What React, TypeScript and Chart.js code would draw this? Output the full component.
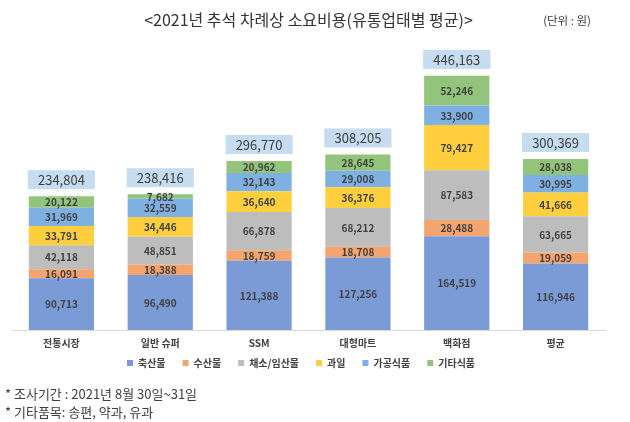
import React, { useEffect, useRef } from "react";
import { Chart, registerables } from "chart.js";

Chart.register(...registerables);

const categories = ["전통시장", "일반 슈퍼", "SSM", "대형마트", "백화점", "평균"];
const seriesNames = ["축산물", "수산물", "채소/임산물", "과일", "가공식품", "기타식품"];
const livestock = [90713, 96490, 121388, 127256, 164519, 116946];
const seafood = [16091, 18388, 18759, 18708, 28488, 19059];
const vegetables = [42118, 48851, 66878, 68212, 87583, 63665];
const fruit = [33791, 34446, 36640, 36376, 79427, 41666];
const processed = [31969, 32559, 32143, 29008, 33900, 30995];
const others = [20122, 7682, 20962, 28645, 52246, 28038];
const totals = [234804, 238416, 296770, 308205, 446163, 300369];
const seriesColors = ["#7b9bd6", "#f3a46f", "#bdbdbd", "#ffcf3e", "#7eb1e2", "#93c47b"];

const titleText = "<2021년 추석 차례상 소요비용(유통업태별 평균)>";
const unitText = "(단위 : 원)";
const footnotes = ["* 조사기간 : 2021년 8월 30일~31일", "* 기타품목: 송편, 약과, 유과"];

const FONT = "'Noto Sans CJK KR', 'Noto Sans', sans-serif";
const fmt = (v: number) => v.toLocaleString("en-US");

const labelsPlugin = {
  id: "customLabels",
  afterDatasetsDraw(chart: any) {
    const ctx = chart.ctx;
    ctx.save();
    ctx.font = `bold 10px ${FONT}`;
    ctx.fillStyle = "#404040";
    ctx.textAlign = "center";
    ctx.textBaseline = "middle";
    chart.data.datasets.forEach((ds: any, di: number) => {
      const meta = chart.getDatasetMeta(di);
      meta.data.forEach((el: any, i: number) => {
        const cy = (el.y + el.base) / 2;
        ctx.fillText(fmt(ds.data[i]), el.x, cy + 0.5);
      });
    });
    const xs = chart.scales.x;
    const ys = chart.scales.y;
    const firstMeta = chart.getDatasetMeta(0);
    totals.forEach((t, i) => {
      const el = firstMeta.data[i];
      const w = el.width + 2;
      const x = xs.getPixelForValue(i);
      const yTop = ys.getPixelForValue(t);
      const h = 19;
      const gap = 7;
      ctx.fillStyle = "#c5dcf1";
      ctx.fillRect(x - w / 2, yTop - gap - h, w, h);
      ctx.fillStyle = "#404040";
      ctx.font = `13px ${FONT}`;
      ctx.fillText(fmt(t), x, yTop - gap - h / 2 + 0.5);
    });
    ctx.restore();
  },
  afterDraw(chart: any) {
    const ctx = chart.ctx;
    ctx.save();
    ctx.fillStyle = "#404040";
    ctx.textBaseline = "middle";
    ctx.font = `11.5px ${FONT}`;
    ctx.textAlign = "right";
    ctx.fillText(unitText, chart.width - 39, 21);
    ctx.textAlign = "left";
    ctx.font = `13px ${FONT}`;
    footnotes.forEach((f, i) => {
      ctx.fillText(f, 5, chart.height - 28 + i * 18);
    });
    ctx.restore();
  },
};

export default function App() {
  const ref = useRef<HTMLCanvasElement>(null);
  useEffect(() => {
    if (!ref.current) return;
    const seriesData = [livestock, seafood, vegetables, fruit, processed, others];
    const chart = new Chart(ref.current, {
      type: "bar",
      data: {
        labels: categories,
        datasets: seriesNames.map((name, i) => ({
          label: name,
          data: seriesData[i],
          backgroundColor: seriesColors[i],
          borderWidth: 0,
          categoryPercentage: 0.66,
          barPercentage: 1,
        })),
      },
      options: {
        animation: false,
        responsive: true,
        maintainAspectRatio: false,
        layout: { padding: { left: 12, right: 25, top: 0, bottom: 44 } },
        scales: {
          x: {
            stacked: true,
            grid: { display: false, drawTicks: false },
            border: { display: true, color: "#d9d9d9", width: 1 },
            ticks: {
              padding: 7,
              color: "#404040",
              font: { family: FONT, size: 10, weight: "bold" },
            },
          },
          y: {
            stacked: true,
            display: false,
            min: 0,
            max: 500000,
          },
        },
        plugins: {
          title: {
            display: true,
            text: titleText,
            color: "#333333",
            font: { family: FONT, size: 16, weight: "normal" },
            padding: { top: 10, bottom: 16 },
          },
          legend: {
            position: "bottom",
            labels: {
              boxWidth: 6,
              boxHeight: 6,
              padding: 2,
              color: "#404040",
              font: { family: FONT, size: 10, weight: "bold" },
              generateLabels: (c: any) =>
                Chart.defaults.plugins.legend.labels
                  .generateLabels(c)
                  .map((l: any) => ({ ...l, text: l.text + "\u2003\u2002" })),
            },
          },
          tooltip: { enabled: false },
        },
      },
      plugins: [labelsPlugin],
    });
    return () => chart.destroy();
  }, []);
  return (
    <div style={{ position: "absolute", left: 0, top: 0, width: 630, height: 422, background: "#fff" }}>
      <canvas ref={ref} />
    </div>
  );
}
